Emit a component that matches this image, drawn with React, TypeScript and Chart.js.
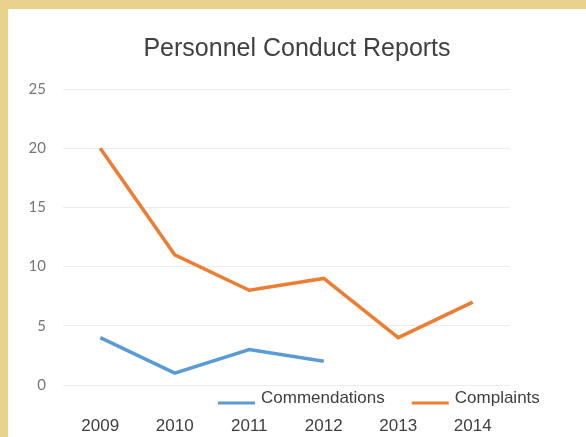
import { useEffect, useRef } from 'react';
import { Chart, registerables } from 'chart.js';

Chart.register(...registerables);

const chartTitle = 'Personnel Conduct Reports';
const years = ['2009', '2010', '2011', '2012', '2013', '2014'];
const commendations = [4, 1, 3, 2, null, null];
const complaints = [20, 11, 8, 9, 4, 7];
const yTickValues = [0, 5, 10, 15, 20, 25];
const seriesNames = ['Commendations', 'Complaints'];

const SANS = "'Liberation Sans', Arial, sans-serif";
const BLUE = '#5b9bd5';
const ORANGE = '#ed7d31';

const lineLegend = {
  id: 'lineLegend',
  afterDraw(chart: any) {
    const { ctx, chartArea } = chart;
    ctx.save();
    ctx.font = `17px ${SANS}`;
    ctx.textBaseline = 'middle';
    ctx.textAlign = 'left';
    let x = chartArea.left + 155;
    const yText = chartArea.bottom + 13;
    const yLine = chartArea.bottom + 18;
    chart.data.datasets.forEach((ds: any) => {
      ctx.strokeStyle = ds.borderColor;
      ctx.lineWidth = 3;
      ctx.beginPath();
      ctx.moveTo(x, yLine);
      ctx.lineTo(x + 37, yLine);
      ctx.stroke();
      x += 43;
      ctx.fillStyle = '#404040';
      ctx.fillText(ds.label, x, yText);
      x += ctx.measureText(ds.label).width + 27;
    });
    ctx.restore();
  },
};

export default function App() {
  const ref = useRef<HTMLCanvasElement>(null);
  useEffect(() => {
    if (!ref.current) return;
    const chart = new Chart(ref.current, {
      type: 'line',
      data: {
        labels: years,
        datasets: [
          {
            label: seriesNames[0],
            data: commendations,
            borderColor: BLUE,
            backgroundColor: BLUE,
            borderWidth: 3.5,
            pointRadius: 0,
            tension: 0,
            spanGaps: false,
          },
          {
            label: seriesNames[1],
            data: complaints,
            borderColor: ORANGE,
            backgroundColor: ORANGE,
            borderWidth: 3.5,
            pointRadius: 0,
            tension: 0,
          },
        ],
      },
      options: {
        responsive: false,
        animation: false,
        layout: { padding: 0 },
        plugins: {
          legend: { display: false },
          tooltip: { enabled: false },
          title: {
            display: true,
            text: chartTitle,
            color: '#404040',
            font: { family: SANS, size: 25, weight: 'normal' },
            padding: { top: 25, bottom: 25 },
          },
        },
        scales: {
          x: {
            type: 'category',
            offset: true,
            grid: { display: false, drawTicks: false },
            border: { display: false },
            afterFit: (scale: any) => {
              scale.height = 52;
            },
            ticks: {
              color: '#404040',
              font: { family: SANS, size: 17, lineHeight: 1 },
              padding: 33,
              maxRotation: 0,
              autoSkip: false,
            },
          },
          y: {
            min: 0,
            max: 25,
            afterBuildTicks: (scale: any) => {
              scale.ticks = yTickValues.map((v) => ({ value: v }));
            },
            afterFit: (scale: any) => {
              scale.width = 55;
            },
            grid: { color: '#ececec', drawTicks: false },
            border: { display: false },
            ticks: {
              color: '#767676',
              font: { family: 'Lato', size: 15 },
              padding: 17,
            },
          },
          spacer: {
            type: 'linear',
            position: 'right',
            display: true,
            grid: { display: false, drawTicks: false },
            border: { display: false },
            ticks: { display: false },
            afterFit: (scale: any) => {
              scale.width = 76;
            },
          },
        },
      },
      plugins: [lineLegend],
    });
    return () => chart.destroy();
  }, []);

  return (
    <div
      style={{
        position: 'fixed',
        left: 0,
        top: 0,
        width: 586,
        height: 437,
        background: '#e8d28c',
        overflow: 'hidden',
      }}
    >
      <div
        style={{
          position: 'absolute',
          left: 8,
          top: 9,
          width: 578,
          height: 428,
          background: '#ffffff',
        }}
      >
        <canvas ref={ref} width={578} height={428} style={{ display: 'block' }} />
      </div>
    </div>
  );
}
